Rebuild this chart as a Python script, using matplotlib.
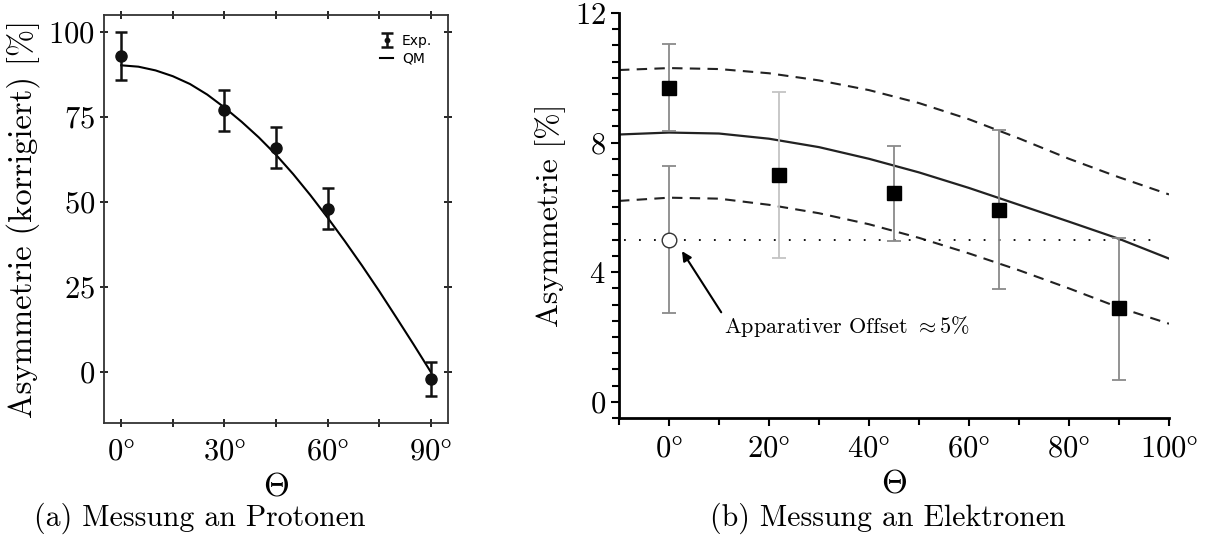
import matplotlib.pyplot as plt
from matplotlib.ticker import MultipleLocator

plt.rcParams['font.family'] = ['cmr10', 'DejaVu Serif']
plt.rcParams['mathtext.fontset'] = 'cm'
plt.rcParams['axes.formatter.use_mathtext'] = True
plt.rcParams['font.size'] = 22

# (a) Protonen
p_theta = [0, 30, 45, 60, 90]
p_asym = [93, 77, 66, 48, -2]
p_err = [7, 6, 6, 6, 5]
qm_theta = [0, 5, 10, 15, 20, 25, 30, 35, 40, 45, 50, 55, 60, 65, 70, 75, 80, 85, 90]
qm_asym = [90.2, 89.8, 88.7, 87.0, 84.7, 81.6, 77.8, 73.6, 69.0, 63.9, 58.2, 52.0, 45.4,
           38.5, 31.3, 23.8, 16.0, 8.1, 0.0]
p_xticks = [0, 30, 60, 90]
p_yticks = [0, 25, 50, 75, 100]

# (b) Elektronen
e_theta = [0, 22, 45, 66, 90]
e_asym = [9.7, 7.0, 6.45, 5.93, 2.88]
e_lo = [8.36, 4.44, 4.97, 3.49, 0.68]
e_hi = [11.05, 9.57, 7.9, 8.4, 5.06]
e_errcol = ['#8a8a8a', '#c4c4c4', '#8a8a8a', '#8a8a8a', '#8a8a8a']
off_theta = 0
off_asym = 5.0
off_lo, off_hi = 2.75, 7.28
c_theta = [-10, 0, 10, 20, 30, 40, 50, 60, 70, 80, 90, 100]
c_mid = [8.25, 8.31, 8.28, 8.12, 7.86, 7.5, 7.08, 6.6, 6.08, 5.56, 5.03, 4.42]
c_up = [10.24, 10.3, 10.27, 10.14, 9.92, 9.62, 9.22, 8.72, 8.13, 7.5, 6.93, 6.4]
c_low = [6.2, 6.3, 6.27, 6.08, 5.82, 5.48, 5.06, 4.58, 4.06, 3.5, 2.91, 2.41]
e_xticks = [0, 20, 40, 60, 80, 100]
e_yticks = [0, 4, 8, 12]

W, H = 1208, 535
fig = plt.figure(figsize=(W / 100, H / 100), dpi=100)

# ---- left panel
ax1 = fig.add_axes([104 / W, (H - 423) / H, (448 - 104) / W, (423 - 15) / H])
ax1.plot(qm_theta, qm_asym, color='black', lw=1.5, label='QM')
ax1.errorbar(p_theta, p_asym, yerr=p_err, fmt='o', color='#111111', ms=8,
             capsize=4, elinewidth=1.8, capthick=1.8, label='Exp.')
ax1.set_xlim(-5, 95)
ax1.set_ylim(-15, 105)
ax1.set_xticks(p_xticks)
ax1.set_xticks([15, 45, 75], minor=True)
ax1.set_xticklabels([r'$%d\degree$' % t for t in p_xticks])
ax1.set_yticks(p_yticks)
ax1.set_yticklabels([r'$%d$' % t for t in p_yticks])
ax1.tick_params(which='both', direction='inout', top=True, right=True, length=6,
                width=1.2, labelsize=22)
ax1.tick_params(axis='x', pad=8)
for s in ax1.spines.values():
    s.set_linewidth(1.3)
    s.set_color('#333333')
ax1.set_xlabel(r'$\Theta$', labelpad=5, fontsize=24)
ax1.set_ylabel('Asymmetrie (korrigiert) [%]', labelpad=6, fontsize=23.5)
h, l = ax1.get_legend_handles_labels()
ax1.legend(h[::-1], l[::-1], loc='upper right', bbox_to_anchor=(0.99, 0.985),
           frameon=False, handlelength=1.0, handletextpad=0.6, labelspacing=0.3,
           markerscale=0.4, prop={'family': 'DejaVu Sans', 'size': 10})

# ---- right panel
ax2 = fig.add_axes([619 / W, (H - 418) / H, (1169 - 619) / W, (418 - 13) / H])
ax2.plot(c_theta, c_up, color='#222222', lw=1.5, ls=(0, (5, 3.5)))
ax2.plot(c_theta, c_low, color='#222222', lw=1.5, ls=(0, (5, 3.5)))
ax2.plot(c_theta, c_mid, color='#222222', lw=1.6)
ax2.plot([-9, 97], [off_asym, off_asym], color='black', lw=1.3, ls=(0, (1, 7.3)))
for t, a, lo, hi, c in zip(e_theta, e_asym, e_lo, e_hi, e_errcol):
    ax2.errorbar([t], [a], yerr=[[a - lo], [hi - a]], fmt='none', ecolor=c,
                 elinewidth=1.3, capsize=5, capthick=1.3)
ax2.plot(e_theta, e_asym, 's', color='black', ms=9.5, zorder=5)
ax2.errorbar([off_theta], [off_asym], yerr=[[off_asym - off_lo], [off_hi - off_asym]],
             fmt='o', mfc='white', mec='#333333', ecolor='#8a8a8a', ms=10.5,
             elinewidth=1.3, capsize=5, capthick=1.3, zorder=6)
ax2.annotate(r'Apparativer Offset $\approx 5\%$', xy=(2.6, 4.65), xytext=(11, 2.32),
             fontsize=16, va='center', ha='left',
             arrowprops=dict(arrowstyle='-|>', color='black', lw=1.5,
                             shrinkA=0, shrinkB=0, mutation_scale=14,
                             relpos=(0, 0.9)))
ax2.set_xlim(-10, 100)
ax2.set_ylim(-0.5, 12)
ax2.set_xticks(e_xticks)
ax2.xaxis.set_minor_locator(MultipleLocator(10))
ax2.set_xticklabels([r'$%d\degree$' % t for t in e_xticks])
ax2.set_yticks(e_yticks)
ax2.yaxis.set_minor_locator(MultipleLocator(0.5))
ax2.set_yticklabels([r'$%d$' % t for t in e_yticks])
ax2.tick_params(which='major', direction='out', length=6, width=1.5, labelsize=22)
ax2.tick_params(which='minor', direction='out', length=5, width=1.5)
ax2.tick_params(axis='x', which='major', pad=6)
ax2.spines['top'].set_visible(False)
ax2.spines['right'].set_visible(False)
ax2.spines['left'].set_linewidth(2)
ax2.spines['bottom'].set_linewidth(2)
ax2.set_xlabel(r'$\Theta$', labelpad=5, fontsize=24)
ax2.set_ylabel('Asymmetrie [%]', labelpad=6, fontsize=23)

fig.text(200 / W, 1 - 518 / H, '(a) Messung an Protonen', ha='center', va='center', fontsize=21.5)
fig.text(888 / W, 1 - 518 / H, '(b) Messung an Elektronen', ha='center', va='center', fontsize=21.5)

fig.savefig('out.png', dpi=100)
